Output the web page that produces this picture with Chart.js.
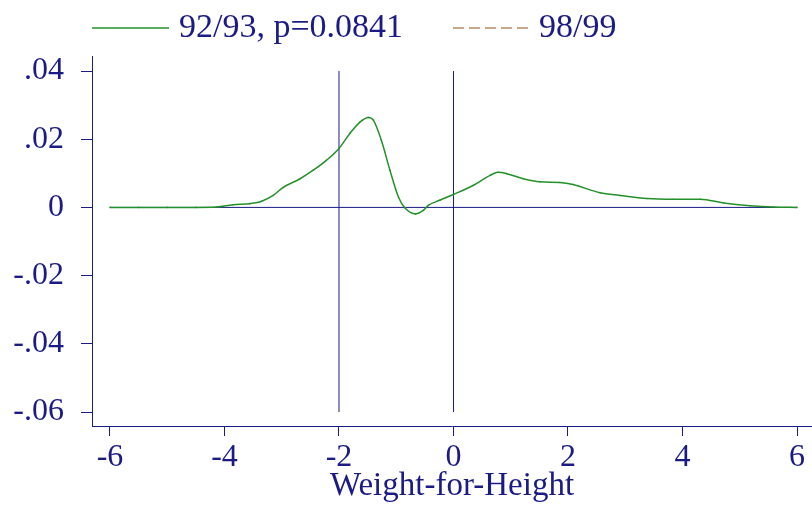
<!DOCTYPE html>
<html>
<head>
<meta charset="utf-8">
<script src="https://cdn.jsdelivr.net/npm/chart.js@4"></script>
<style>
html,body{margin:0;padding:0;background:#fff;}
#wrap{width:812px;height:507px;}
</style>
</head>
<body>
<div id="wrap"><canvas id="c" width="812" height="507"></canvas></div>
<script>
// Weight-for-Height z-score grid and density difference (92/93)
const wfh = [-6, -5.5, -5, -4.5, -4.14, -3.85, -3.56, -3.35, -3.15, -2.98, -2.68, -2.45, -2.22, -2.0, -1.81, -1.63, -1.49, -1.40, -1.26, -1.11, -0.96, -0.85, -0.66, -0.53, -0.44, -0.24, 0, 0.35, 0.64, 0.78, 0.93, 1.22, 1.51, 1.86, 2.09, 2.56, 2.91, 3.38, 3.84, 4.31, 4.72, 5.18, 5.59, 6.0];
const dens9293 = [0, 0, 0, 0, 0.0001, 0.0008, 0.0011, 0.0018, 0.0035, 0.0058, 0.0084, 0.0109, 0.0138, 0.0173, 0.0217, 0.0251, 0.0264, 0.0256, 0.0197, 0.0109, 0.0030, -0.0001, -0.0019, -0.0009, 0.0006, 0.0021, 0.0038, 0.0065, 0.0094, 0.0103, 0.0099, 0.0084, 0.0075, 0.0073, 0.0067, 0.0043, 0.0035, 0.0026, 0.0024, 0.0024, 0.0013, 0.0005, 0.0001, 0];
const dens9899 = [];
const seriesLabels = ['92/93, p=0.0841', '98/99'];
const xTicks = [-6, -4, -2, 0, 2, 4, 6];
const yTicks = [-0.06, -0.04, -0.02, 0, 0.02, 0.04];
const refLinesX = [-2, 0];
const xTitle = 'Weight-for-Height';

const NAVY = '#1b1b86';
const GREEN = '#23912a';
const TAN = '#b88c60';
const FONT = '"Liberation Serif", "Times New Roman", serif';

function fmtY(v) {
  if (Math.abs(v) < 1e-9) return '0';
  return (v < 0 ? '-' : '') + Math.abs(v).toFixed(2).replace(/^0/, '');
}

const curve = wfh.map((x, i) => ({x: x, y: dens9293[i]}));
const datasets = [
  {label: seriesLabels[0], data: curve, borderColor: GREEN, backgroundColor: GREEN, borderWidth: 1.5,
   pointRadius: 0.8, pointHoverRadius: 0, pointBorderWidth: 0, pointBackgroundColor: GREEN, cubicInterpolationMode: 'monotone', fill: false, legendLine: true, order: 0},
  {label: seriesLabels[1], data: dens9899.map((y, i) => ({x: wfh[i], y: y})), borderColor: TAN, backgroundColor: TAN,
   borderWidth: 1.3, borderDash: [11, 5], pointRadius: 0, pointHoverRadius: 0, fill: false, legendLine: true, order: 1},
  {label: 'zero', data: [{x: xTicks[0], y: 0}, {x: xTicks[xTicks.length - 1], y: 0}], borderColor: NAVY, borderWidth: 1,
   pointRadius: 0, pointHoverRadius: 0, fill: false, order: 2}
];
refLinesX.forEach(function (rx) {
  datasets.push({label: 'ref' + rx, data: [{x: rx, y: yTicks[0]}, {x: rx, y: yTicks[yTicks.length - 1]}],
    borderColor: NAVY, borderWidth: 1, pointRadius: 0, pointHoverRadius: 0, fill: false, order: 3});
});

const legendPlugin = {
  id: 'stataLegend',
  afterDraw(chart) {
    const ctx = chart.ctx;
    const items = chart.data.datasets.filter(d => d.legendLine);
    const pos = [{x0: 92, x1: 169, tx: 179}, {x0: 453, x1: 529, tx: 539}];
    ctx.save();
    items.forEach(function (d, i) {
      const p = pos[i];
      ctx.beginPath();
      ctx.setLineDash(d.borderDash || []);
      ctx.strokeStyle = d.borderColor;
      ctx.lineWidth = 1.5;
      ctx.moveTo(p.x0, 28);
      ctx.lineTo(p.x1, 28);
      ctx.stroke();
      ctx.setLineDash([]);
      ctx.fillStyle = NAVY;
      ctx.font = '34px ' + FONT;
      ctx.textBaseline = 'alphabetic';
      ctx.textAlign = 'left';
      ctx.fillText(d.label, p.tx, 37);
    });
    ctx.restore();
  }
};

new Chart(document.getElementById('c'), {
  type: 'line',
  data: {datasets: datasets},
  plugins: [legendPlugin],
  options: {
    responsive: false,
    animation: false,
    layout: {autoPadding: false, padding: {top: 56, left: 0, right: 0, bottom: 0}},
    plugins: {legend: {display: false}, tooltip: {enabled: false}},
    scales: {
      x: {
        type: 'linear', min: -6.314, max: 6.262,
        afterBuildTicks: s => { s.ticks = xTicks.map(v => ({value: v})); },
        afterFit: s => { s.height = 81; s.paddingLeft = 0; s.paddingRight = 0; },
        grid: {drawOnChartArea: false, drawTicks: true, tickLength: 10, color: NAVY, lineWidth: 1},
        border: {display: true, color: NAVY, width: 1},
        ticks: {color: NAVY, font: {family: FONT, size: 32}, padding: 2, maxRotation: 0, autoSkip: false,
          callback: v => String(v)},
        title: {display: true, text: xTitle, color: NAVY, font: {family: FONT, size: 33}, padding: {top: 0, bottom: 1}}
      },
      y: {
        type: 'linear', min: -0.0641, max: 0.0444,
        afterBuildTicks: s => { s.ticks = yTicks.map(v => ({value: v})); },
        afterFit: s => { s.width = 92; },
        grid: {drawOnChartArea: false, drawTicks: true, tickLength: 11, color: NAVY, lineWidth: 1},
        border: {display: true, color: NAVY, width: 1},
        ticks: {color: NAVY, font: {family: FONT, size: 32}, padding: 17, autoSkip: false, callback: v => fmtY(v)}
      }
    }
  }
});
</script>
</body>
</html>
